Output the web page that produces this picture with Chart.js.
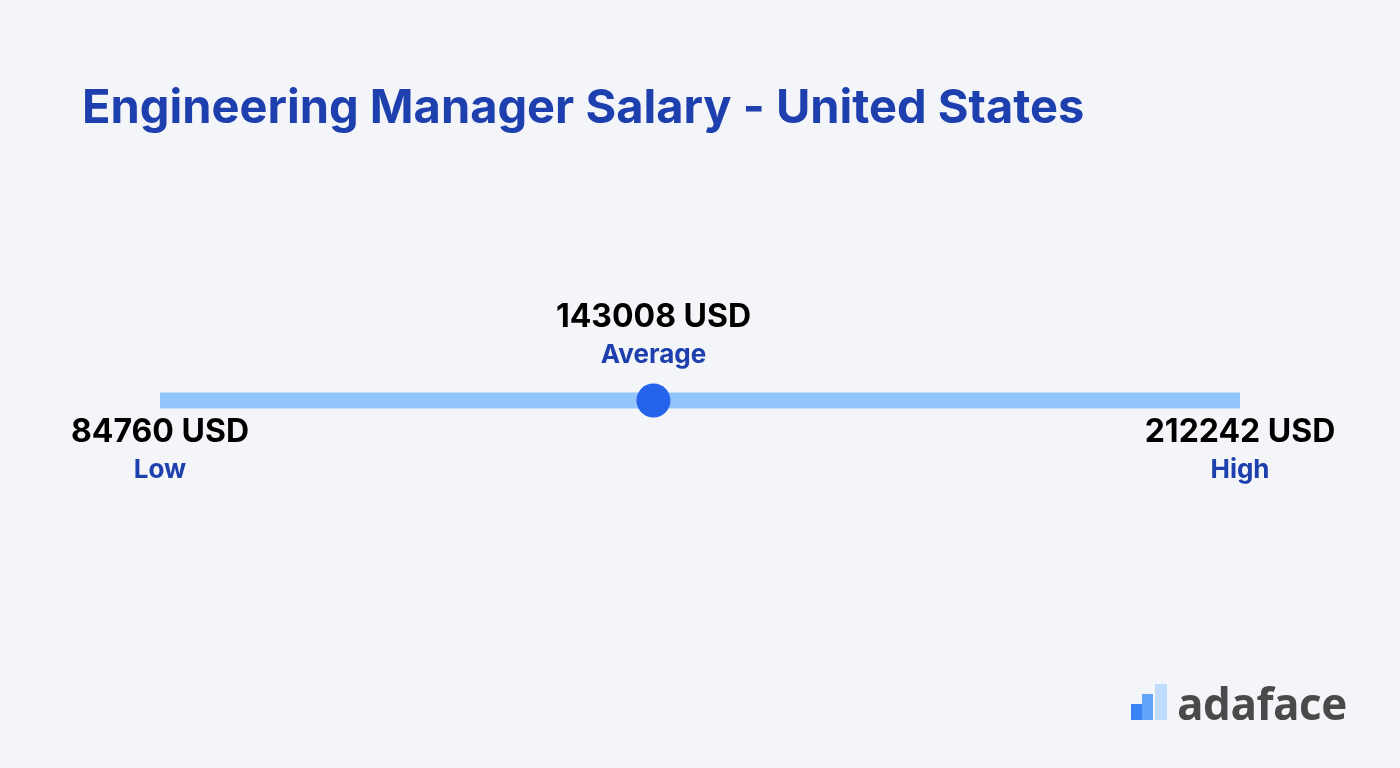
<!DOCTYPE html>
<html><head><meta charset="utf-8">
<script src="https://cdn.jsdelivr.net/npm/chart.js@4"></script>
<style>
html,body{margin:0;padding:0;background:#f3f5f8;width:1400px;height:768px;overflow:hidden;font-family:Inter,"Open Sans",sans-serif}
#wrap{position:absolute;left:0;top:0;width:1400px;height:768px}
#logo{position:absolute;left:1131px;top:678px;height:50px;display:flex;align-items:center}
#logo .t{font:700 44px "Open Sans",sans-serif;color:#4a4a4a;margin-left:8px;letter-spacing:-0.5px}
</style></head><body>
<div id="wrap"><canvas id="c" width="1400" height="768"></canvas></div>
<div id="logo">
<svg width="38" height="38" viewBox="0 0 38 38"><rect x="0" y="20" width="11" height="16" fill="#3b82f6"/><rect x="11" y="10" width="11" height="26" fill="#60a5fa"/><rect x="24" y="0" width="12" height="36" fill="#bfdbfe"/></svg>
<span class="t">adaface</span></div>
<script>
const titleText = "Engineering Manager Salary - United States";
const labels = ["Low", "Average", "High"];
const values = [84760, 143008, 212242];
const unit = "USD";

const labelPlugin = {
  id: 'labels',
  afterDraw(chart) {
    const ctx = chart.ctx, xs = chart.scales.x, ys = chart.scales.y;
    ctx.save();
    ctx.fillStyle = '#1e3fae';
    ctx.font = '700 47px Inter, sans-serif';
    ctx.textAlign = 'left'; ctx.textBaseline = 'alphabetic';
    ctx.fillText(titleText, 82, 123);
    const yLine = ys.getPixelForValue(0.5);
    ctx.textAlign = 'center'; ctx.textBaseline = 'middle';
    values.forEach((v, i) => {
      const x = xs.getPixelForValue(v);
      const above = i === 1;
      const yv = above ? yLine - 83 : yLine + 32;
      const yl = above ? yLine - 45 : yLine + 70;
      ctx.fillStyle = '#000';
      ctx.font = '700 32px Inter, sans-serif';
      ctx.fillText(v + ' ' + unit, x, yv);
      ctx.fillStyle = '#1e3fae';
      ctx.font = '700 26px Inter, sans-serif';
      ctx.fillText(labels[i], x, yl);
    });
    ctx.restore();
  }
};

new Chart(document.getElementById('c'), {
  type: 'line',
  data: {
    datasets: [
      { data: [{x: values[0], y: 0.5}, {x: values[2], y: 0.5}], borderColor: '#93c5fd', borderWidth: 16, borderCapStyle: 'butt', pointRadius: 0, order: 2 },
      { data: [{x: values[1], y: 0.5}], showLine: false, pointRadius: 17, pointHoverRadius: 17, pointBackgroundColor: '#2563eb', pointBorderWidth: 0, order: 1 }
    ]
  },
  options: {
    responsive: false, animation: false,
    layout: { padding: { left: 160, right: 160, top: 50, bottom: 0 } },
    scales: {
      x: { type: 'linear', min: values[0], max: values[2], display: false },
      y: { min: 0, max: 1, display: false }
    },
    plugins: { legend: { display: false }, tooltip: { enabled: false } }
  },
  plugins: [labelPlugin]
});
</script></body></html>
